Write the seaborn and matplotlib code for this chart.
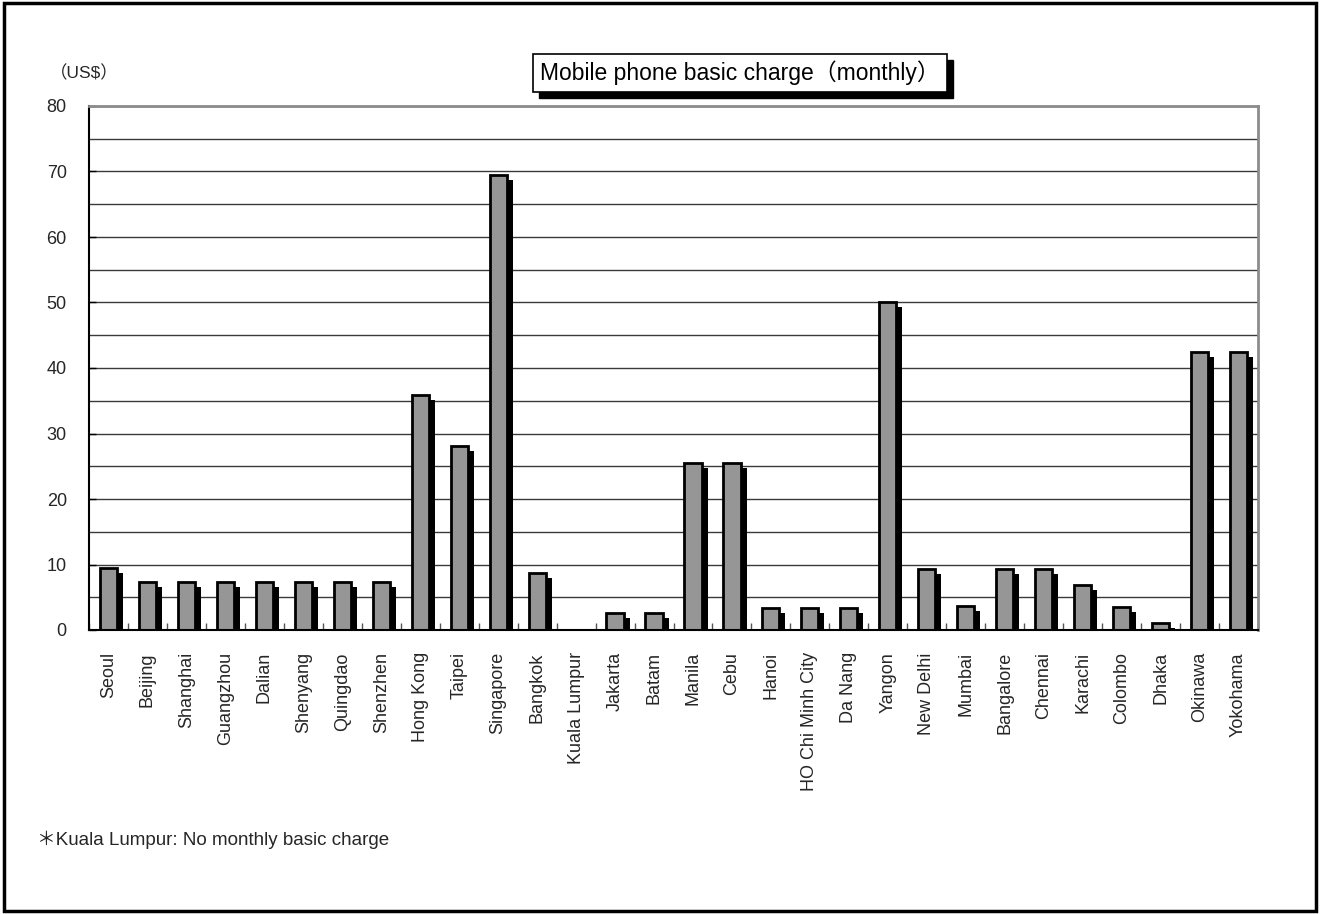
import matplotlib
matplotlib.use("Agg")
import matplotlib.pyplot as plt
import matplotlib.transforms as mtransforms
from matplotlib.patches import Rectangle
from matplotlib.ticker import MultipleLocator
import seaborn as sns
import pandas as pd
import numpy as np

sns.set_theme(style="white")
plt.rcParams['font.family'] = ['Liberation Sans', 'Noto Sans CJK JP', 'DejaVu Sans']

# --- Daten ---
cities = [
    "Seoul", "Beijing", "Shanghai", "Guangzhou", "Dalian", "Shenyang", "Quingdao",
    "Shenzhen", "Hong Kong", "Taipei", "Singapore", "Bangkok", "Kuala Lumpur",
    "Jakarta", "Batam", "Manila", "Cebu", "Hanoi", "HO Chi Minh City", "Da Nang",
    "Yangon", "New Delhi", "Mumbai", "Bangalore", "Chennai", "Karachi", "Colombo",
    "Dhaka", "Okinawa", "Yokohama",
]
charges = [
    9.5, 7.4, 7.4, 7.4, 7.4, 7.4, 7.4,
    7.4, 35.9, 28.1, 69.4, 8.7, 0.0,
    2.6, 2.6, 25.5, 25.5, 3.4, 3.4, 3.4,
    50.1, 9.3, 3.6, 9.3, 9.3, 6.9, 3.5,
    1.0, 42.5, 42.5,
]
y_ticks = [0, 10, 20, 30, 40, 50, 60, 70, 80]

df = pd.DataFrame({"city": cities, "charge": charges})

fig = plt.figure(figsize=(13.2, 9.14), dpi=100)
ax = fig.add_axes([89 / 1320, 1 - 630 / 914, (1258 - 89) / 1320, (630 - 106) / 914])

# Schatten (schwarz, nach rechts unten versetzt, unten an der Achse abgeschnitten)
sns.barplot(data=df, x="city", y="charge", color="black", width=0.44,
            linewidth=0, saturation=1, ax=ax, zorder=2)
shift = mtransforms.ScaledTranslation(0.06, -0.05, fig.dpi_scale_trans)
for p in ax.patches:
    p.set_transform(ax.transData + shift)

# Hauptbalken (grau)
sns.barplot(data=df, x="city", y="charge", color="#969696", width=0.44,
            edgecolor="black", linewidth=2, saturation=1, ax=ax, zorder=3)
for p in ax.patches:
    if p.get_height() == 0:
        p.set_visible(False)

ax.set_xlim(-0.5, len(cities) - 0.5)
ax.set_ylim(0, 80)
ax.set_yticks(y_ticks)
ax.yaxis.set_minor_locator(MultipleLocator(5))
ax.grid(axis="y", which="both", color="#3a3a3a", linewidth=1, zorder=0)
ax.set_axisbelow(True)

ax.set_xticks(np.arange(len(cities)))
ax.set_xticklabels(cities, rotation=90, fontsize=13)
ax.set_xticks(np.arange(len(cities) + 1) - 0.5, minor=True)
ax.tick_params(axis="x", which="major", length=0, pad=16)
ax.tick_params(axis="x", which="minor", direction="in", length=5, width=1, color="#555555", bottom=True)
ax.tick_params(axis="y", which="major", direction="in", length=5, width=1, color="black",
               left=True, labelsize=13, pad=16)
ax.tick_params(axis="y", which="minor", length=0)
ax.set_xlabel("")
ax.set_ylabel("")

for side in ["left", "bottom"]:
    ax.spines[side].set_color("black")
    ax.spines[side].set_linewidth(1.5)
for side in ["top", "right"]:
    ax.spines[side].set_color("#8c8c8c")
    ax.spines[side].set_linewidth(2)
ax.spines["bottom"].set_zorder(4)

# Texte
fig.text(50 / 1320, 1 - 73 / 914, "（US$）", fontsize=12.5, va="center", ha="left")

title = "Mobile phone basic charge（monthly）"
t = fig.text(740 / 1320, 1 - 73 / 914, title, fontsize=16.5, ha="center", va="center",
             color="black", zorder=5,
             bbox=dict(boxstyle="square,pad=0.3", facecolor="white", edgecolor="black", linewidth=1.2))

# Schatten des Titelkastens
fig.canvas.draw()
bb = t.get_bbox_patch().get_window_extent(fig.canvas.get_renderer())
W, H = fig.bbox.width, fig.bbox.height
fig.patches.append(Rectangle(((bb.x0 + 6) / W, (bb.y0 - 6) / H), bb.width / W, bb.height / H,
                             transform=fig.transFigure, facecolor="black", edgecolor="black",
                             zorder=1))

fig.text(37 / 1320, 1 - 840 / 914, "＊Kuala Lumpur: No monthly basic charge", fontsize=13.5,
         va="center", ha="left")

# Rahmen um die ganze Grafik
fig.patches.append(Rectangle((0.003, 0.003), 0.994, 0.994, transform=fig.transFigure,
                             fill=False, edgecolor="black", linewidth=2.5))

fig.savefig("out.png", dpi=100)
